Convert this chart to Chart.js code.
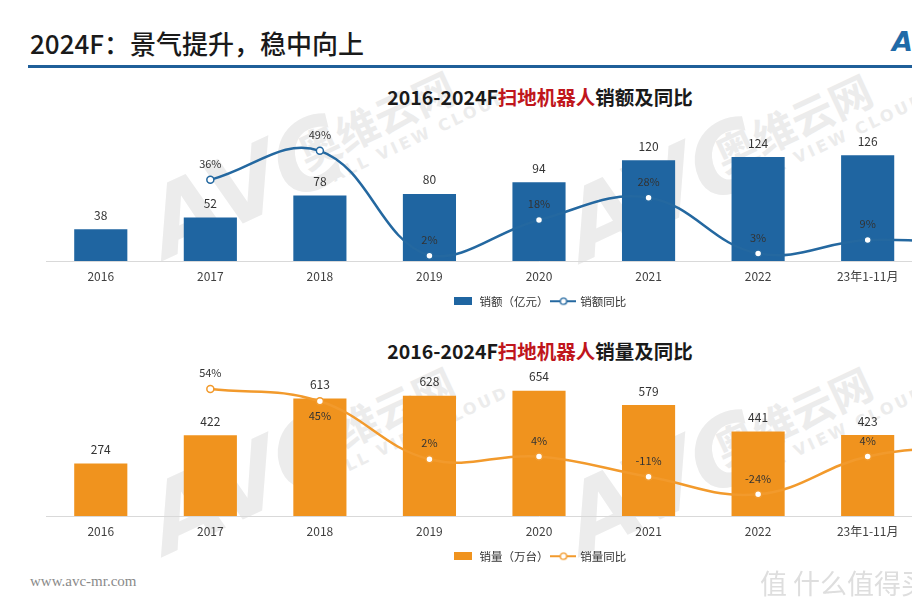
<!DOCTYPE html>
<html>
<head>
<meta charset="utf-8">
<script src="https://cdn.jsdelivr.net/npm/chart.js@4.4.0/dist/chart.umd.min.js"></script>
<style>
  html, body { margin:0; padding:0; width:912px; height:608px; overflow:hidden; background:#fff;
    font-family:"Noto Sans CJK SC","Noto Sans",sans-serif; }
  #page { position:relative; width:912px; height:608px; overflow:hidden; }
  .hdr { position:absolute; left:30px; top:25px; font-size:26px; font-weight:500; color:#1a1a1a; line-height:36px; white-space:nowrap; }
  .rule { position:absolute; left:28px; top:65px; width:900px; height:3px; background:#1f5f99; }
  .logo { position:absolute; left:892px; top:26px; font:bold italic 27px "DejaVu Sans",sans-serif; color:#1f6aa8; }
  .ctitle { position:absolute; left:540px; transform:translateX(-50%); font-size:19.5px; font-weight:bold; color:#1a1a1a; white-space:nowrap; line-height:28px; }
  .ctitle span { color:#c0161c; }
  .wm { position:absolute; width:0; height:0; transform-origin:0 0; transform:rotate(-25deg); color:#ececec; white-space:nowrap; }
  .wm div { position:absolute; left:0; line-height:1; }
  .wm .big { top:-80px; font:bold italic 95px "DejaVu Sans",sans-serif; letter-spacing:-2px; }
  .wm .cn { left:165px; top:-52px; font-size:42px; font-weight:700; }
  .wm .en { left:185px; top:-6px; font:bold 16px "DejaVu Sans",sans-serif; letter-spacing:3px; }
  .site { position:absolute; left:30px; top:573px; font:15px "Liberation Serif",serif; color:#8a8a8a; }
  .zdm { position:absolute; left:760px; top:563px; font-size:27px; color:#dedede; white-space:nowrap; }
  canvas { position:absolute; left:0; }
</style>
</head>
<body>
<div id="page">
  <div class="wm" style="left:163px;top:252px;"><div class="big">AVC</div><div class="cn">奥维云网</div><div class="en">ALL VIEW CLOUD</div></div>
  <div class="wm" style="left:580px;top:255px;"><div class="big">AVC</div><div class="cn">奥维云网</div><div class="en">ALL VIEW CLOUD</div></div>
  <div class="wm" style="left:163px;top:548px;"><div class="big">AVC</div><div class="cn">奥维云网</div><div class="en">ALL VIEW CLOUD</div></div>
  <div class="wm" style="left:580px;top:548px;"><div class="big">AVC</div><div class="cn">奥维云网</div><div class="en">ALL VIEW CLOUD</div></div>

  <div class="hdr">2024F：景气提升，稳中向上</div>
  <div class="rule"></div>
  <div class="logo">AVC</div>

  <div class="ctitle" style="top:83px;">2016-2024F<span>扫地机器人</span>销额及同比</div>
  <div class="ctitle" style="top:337px;">2016-2024F<span>扫地机器人</span>销量及同比</div>

  <canvas id="valueChart" width="1078" height="207" style="top:110px;"></canvas>
  <canvas id="volumeChart" width="1078" height="212" style="top:360px;"></canvas>

  <div class="site">www.avc-mr.com</div>
  <div class="zdm">值 什么值得买</div>
</div>

<script>
  // 数据
  const categories = ['2016', '2017', '2018', '2019', '2020', '2021', '2022', '23年1-11月', '2024F'];
  const salesValue = [38, 52, 78, 80, 94, 120, 124, 126, null];      // 销额（亿元）
  const salesValueYoY = [null, 36, 49, 2, 18, 28, 3, 9, 7];          // 销额同比 %
  const salesVolume = [274, 422, 613, 628, 654, 579, 441, 423, null]; // 销量（万台）
  const salesVolumeYoY = [null, 54, 45, 2, 4, -11, -24, 4, 12];       // 销量同比 %

  Chart.defaults.font.family = '"Noto Sans CJK SC", "Noto Sans", sans-serif';
  Chart.defaults.color = '#404040';

  // 图例小图标
  function barSwatch(color){
    const c = document.createElement('canvas');
    c.width = 18; c.height = 8;
    const g = c.getContext('2d');
    g.fillStyle = color;
    g.fillRect(0, 0, 18, 8);
    return c;
  }
  function lineSwatch(color){
    const c = document.createElement('canvas');
    c.width = 26; c.height = 10;
    const g = c.getContext('2d');
    g.strokeStyle = color; g.lineWidth = 2;
    g.beginPath(); g.moveTo(0, 5); g.lineTo(26, 5); g.stroke();
    g.beginPath(); g.arc(13, 5, 3.2, 0, Math.PI * 2);
    g.fillStyle = '#fff'; g.fill(); g.lineWidth = 1.3; g.stroke();
    return c;
  }

  // 柱顶数值与折线百分比标签
  const valueLabels = {
    id: 'valueLabels',
    afterDatasetsDraw(chart){
      const ctx = chart.ctx;
      const barMeta = chart.getDatasetMeta(0);
      const lineMeta = chart.getDatasetMeta(1);
      const barY = [];
      ctx.save();
      ctx.textAlign = 'center';
      ctx.textBaseline = 'middle';
      ctx.fillStyle = '#333';
      ctx.font = '12px "Noto Sans CJK SC", sans-serif';
      barMeta.data.forEach((bar, i) => {
        const v = chart.data.datasets[0].data[i];
        if (v == null) return;
        barY[i] = bar.y - 14;
        ctx.fillText(String(v), bar.x, barY[i]);
      });
      ctx.font = '11px "Noto Sans CJK SC", sans-serif';
      lineMeta.data.forEach((pt, i) => {
        const v = chart.data.datasets[1].data[i];
        if (v == null) return;
        let y = pt.y - 16;
        if (barY[i] != null && Math.abs(barY[i] - y) < 14) y = pt.y + 15;
        ctx.fillText(v + '%', pt.x, y);
      });
      ctx.restore();
    }
  };

  function makeChart(id, bars, line, barName, lineName, barColor, lineColor, barRange, lineRange){
    const el = document.getElementById(id);
    return new Chart(el.getContext('2d'), {
      type: 'bar',
      data: {
        labels: categories,
        datasets: [{
          type: 'bar',
          label: barName,
          data: bars,
          backgroundColor: barColor,
          categoryPercentage: 1,
          barPercentage: 0.485,
          yAxisID: 'y',
          order: 2
        }, {
          type: 'line',
          label: lineName,
          data: line,
          borderColor: lineColor,
          borderWidth: 2.5,
          tension: 0.4,
          pointRadius: 3.5,
          pointBorderWidth: 1.5,
          pointBackgroundColor: '#fff',
          pointBorderColor: lineColor,
          yAxisID: 'y1',
          order: 1
        }]
      },
      options: {
        responsive: false,
        animation: false,
        devicePixelRatio: 1,
        layout: { padding: { top: 10, left: 46, right: 46, bottom: 0 } },
        plugins: {
          legend: {
            position: 'bottom',
            labels: {
              usePointStyle: true,
              pointStyleWidth: 22,
              padding: 4,
              color: '#333',
              font: { size: 11.5 },
              generateLabels: () => [
                { text: barName, pointStyle: barSwatch(barColor), datasetIndex: 0, fontColor: '#333' },
                { text: lineName, pointStyle: lineSwatch(lineColor), datasetIndex: 1, fontColor: '#333' }
              ]
            }
          },
          tooltip: { enabled: false }
        },
        scales: {
          x: {
            grid: { display: false, drawTicks: false },
            border: { display: true, color: '#d9d9d9', width: 1 },
            ticks: { padding: 8, font: { size: 12 }, color: '#404040', maxRotation: 0, autoSkip: false }
          },
          y: { display: false, min: barRange[0], max: barRange[1] },
          y1: { display: false, min: lineRange[0], max: lineRange[1] }
        }
      },
      plugins: [valueLabels]
    });
  }

  makeChart('valueChart', salesValue, salesValueYoY, '销额（亿元）', '销额同比',
    '#1f65a1', '#2468a0', [0, 168], [-0.4, 62.8]);
  makeChart('volumeChart', salesVolume, salesVolumeYoY, '销量（万台）', '销量同比',
    '#f0931e', '#f29a2c', [0, 762], [-40.1, 68.1]);
</script>
</body>
</html>
